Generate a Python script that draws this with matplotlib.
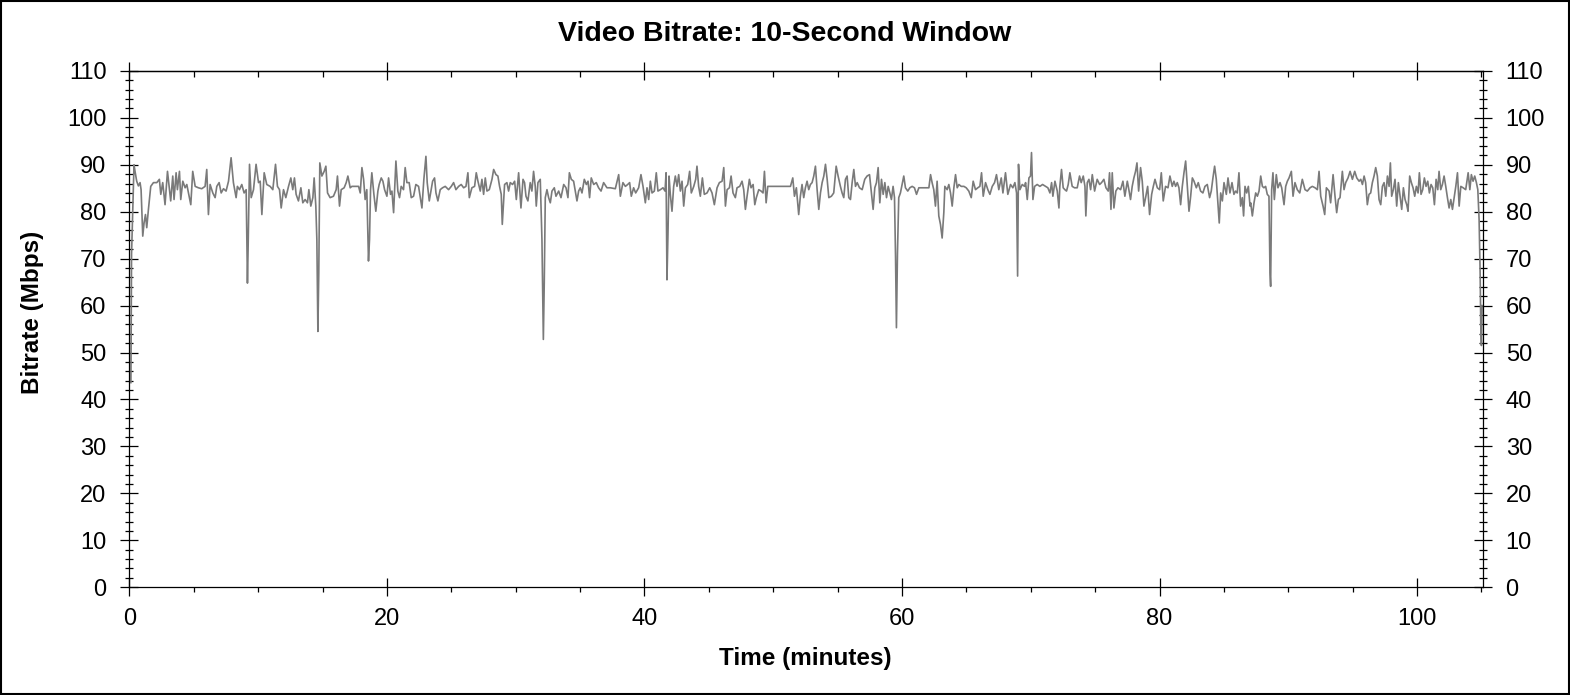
import matplotlib
matplotlib.use("Agg")
import matplotlib.pyplot as plt
from matplotlib.patches import Rectangle
from matplotlib.ticker import MultipleLocator

plt.rcParams['font.family'] = ['Liberation Sans', 'DejaVu Sans']

# bitrate trace, split in six stretches (minutes, Mbps)
t1 = [0.12, 0.17, 0.36, 0.44, 0.57, 0.70, 0.83, 0.91, 1.04, 1.14, 1.25, 1.35, 1.48, 1.66, 1.87,
      2.13, 2.33, 2.44, 2.59, 2.77, 2.96, 3.11, 3.21, 3.37, 3.47, 3.63, 3.73, 3.89, 3.99, 4.15,
      4.33, 4.46, 4.59, 4.77, 4.92, 5.11, 5.36, 5.62, 5.88, 6.01, 6.14, 6.27, 6.48, 6.66, 6.79,
      6.97, 7.13, 7.31, 7.51, 7.70, 7.90, 8.08, 8.29, 8.39, 8.55, 8.73, 8.91, 9.07, 9.15, 9.17,
      9.22, 9.33, 9.46, 9.64, 9.84, 10.03, 10.16, 10.29, 10.47, 10.67, 10.93, 11.14, 11.35,
      11.50, 11.66, 11.79, 11.97, 12.15, 12.36, 12.54, 12.69, 12.82, 12.95, 13.13, 13.32, 13.47,
      13.65, 13.83, 13.94, 14.09, 14.25, 14.35, 14.48, 14.56, 14.64, 14.71, 14.79, 14.95, 15.13,
      15.26, 15.39, 15.59, 15.85, 16.06, 16.16, 16.32, 16.45, 16.68, 16.84, 16.97, 17.15]
v1 = [43.6, 71.0, 90.0, 88.6, 86.5, 85.5, 86.2, 84.7, 74.8, 77.6, 79.4, 76.6, 80.5, 85.4, 86.2,
      86.2, 86.9, 83.7, 86.2, 81.5, 88.6, 84.7, 82.3, 87.6, 82.6, 88.3, 84.7, 88.6, 82.6, 86.5,
      85.1, 85.8, 84.0, 81.5, 88.6, 85.4, 85.1, 84.9, 85.4, 89.0, 79.4, 85.8, 84.0, 83.0, 85.4,
      86.2, 84.0, 84.9, 84.4, 86.5, 91.5, 86.2, 83.0, 85.4, 84.7, 85.8, 84.0, 84.7, 70.0, 64.8,
      72.0, 90.1, 83.0, 84.7, 90.1, 86.2, 86.5, 79.4, 88.3, 85.8, 85.4, 84.7, 90.1,
      85.4, 84.7, 80.8, 84.7, 83.0, 85.4, 87.2, 84.7, 87.2, 83.7, 82.3, 85.1, 81.9,
      82.6, 81.9, 84.7, 81.2, 83.0, 87.2, 81.2, 74.1, 54.5, 67.0, 90.4, 87.6, 88.6,
      89.7, 84.0, 83.0, 83.3, 84.7, 87.6, 81.2, 84.7, 85.1, 86.2, 87.6, 85.1]

t2 = [17.28, 17.54, 17.80, 17.93, 18.06, 18.19, 18.31, 18.44, 18.57, 18.65, 18.73, 18.83, 18.99,
      19.14, 19.30, 19.40, 19.56, 19.69, 19.82, 20.00, 20.13, 20.28, 20.39, 20.52, 20.70, 20.85,
      20.98, 21.11, 21.29, 21.42, 21.55, 21.73, 21.89, 22.07, 22.25, 22.46, 22.72, 22.87, 23.03,
      23.13, 23.29, 23.44, 23.55, 23.70, 23.81, 23.96, 24.14, 24.32, 24.53, 24.79, 25.00, 25.18,
      25.36, 25.57, 25.77, 25.96, 26.14, 26.29, 26.40, 26.60, 26.81, 26.94, 27.07, 27.25, 27.38,
      27.51, 27.64, 27.77, 27.95, 28.16, 28.29, 28.47, 28.62, 28.75, 28.88, 28.96, 29.04, 29.14,
      29.32, 29.45, 29.58, 29.76, 29.92, 30.05, 30.23, 30.41, 30.57, 30.69, 30.80, 30.95, 31.13,
      31.26, 31.39, 31.52, 31.60, 31.73, 31.91, 32.04, 32.15, 32.22, 32.30, 32.43, 32.56, 32.69,
      32.82, 33.00, 33.13, 33.34, 33.52, 33.73, 33.91, 34.06, 34.17, 34.32, 34.50]
v2 = [85.4, 85.4, 85.4, 84.0, 89.4, 86.9, 82.6, 84.7, 69.5, 74.1, 84.7, 88.3, 83.7,
      80.1, 84.4, 85.8, 87.2, 86.5, 84.7, 83.3, 87.2, 83.7, 84.4, 79.8, 90.8, 84.4,
      83.0, 85.4, 84.7, 89.4, 86.2, 86.2, 83.0, 83.3, 85.8, 85.4, 80.8, 86.9, 91.8,
      86.2, 82.3, 84.7, 86.5, 87.2, 84.0, 82.3, 84.7, 85.1, 85.4, 84.7, 85.4, 86.2,
      84.7, 85.4, 85.8, 85.1, 85.4, 88.3, 83.0, 85.1, 85.4, 88.3, 86.5, 84.4, 86.9,
      83.7, 87.2, 84.4, 84.7, 86.9, 89.0, 87.9, 87.6, 85.4, 83.7, 77.3, 81.2, 85.8,
      86.2, 84.4, 86.2, 85.8, 86.5, 82.6, 88.3, 80.8, 86.9, 86.2, 83.3, 82.3, 86.2,
      84.4, 88.6, 85.4, 81.2, 86.2, 86.9, 74.1, 52.8, 64.8, 83.0, 84.7, 83.0, 81.9,
      84.4, 85.1, 83.3, 84.4, 83.0, 85.8, 85.1, 83.0, 88.3, 86.9, 86.5]

t3 = [34.76, 34.89, 35.02, 35.15, 35.33, 35.49, 35.62, 35.74, 35.87, 36.06, 36.26, 36.44, 36.63,
      36.83, 37.09, 37.35, 37.74, 38.00, 38.13, 38.33, 38.52, 38.70, 38.85, 38.98, 39.16, 39.32,
      39.55, 39.73, 39.89, 40.07, 40.20, 40.33, 40.46, 40.59, 40.77, 40.92, 41.05, 41.24, 41.44,
      41.60, 41.68, 41.75, 41.83, 41.91, 42.01, 42.14, 42.27, 42.40, 42.53, 42.66, 42.79, 42.92,
      43.05, 43.18, 43.36, 43.51, 43.64, 43.83, 43.98, 44.08, 44.21, 44.34, 44.50, 44.65, 44.86,
      45.07, 45.25, 45.43, 45.64, 45.82, 46.03, 46.16, 46.29, 46.42, 46.60, 46.73, 46.88, 47.06,
      47.19, 47.40, 47.58, 47.71, 47.84, 47.97, 48.15, 48.28, 48.44, 48.57, 48.69, 48.88, 49.06,
      49.21, 49.32, 49.45, 49.58, 49.78, 50.17, 50.56, 50.95, 51.34, 51.52, 51.65, 51.80, 51.98]
v3 = [82.3, 84.4, 85.1, 84.0, 86.9, 85.8, 86.5, 83.0, 87.2, 85.8, 86.2, 85.1, 84.4,
      86.2, 85.1, 85.1, 84.9, 87.9, 83.3, 86.2, 85.4, 85.8, 86.2, 83.3, 85.1, 84.0,
      85.1, 87.9, 85.4, 81.9, 85.1, 82.6, 86.5, 84.0, 84.4, 88.3, 84.4, 84.7, 85.1,
      84.4, 88.3, 65.5, 75.5, 87.6, 83.7, 80.1, 85.4, 87.6, 85.4, 87.9, 84.4, 86.5,
      81.2, 85.1, 85.8, 88.6, 84.0, 85.4, 86.9, 89.7, 85.4, 83.3, 87.2, 83.7, 84.0,
      85.1, 84.0, 81.5, 85.1, 86.2, 86.5, 89.4, 81.2, 84.7, 85.1, 87.6, 84.0, 83.0,
      85.1, 85.4, 86.5, 84.7, 80.5, 83.3, 86.9, 85.1, 85.8, 81.5, 83.0, 84.7, 84.4,
      84.0, 88.6, 81.9, 85.4, 85.4, 85.4, 85.4, 85.4, 85.4, 87.2, 83.3, 85.1, 79.4]

t4 = [52.11, 52.24, 52.37, 52.50, 52.63, 52.76, 52.89, 53.02, 53.15, 53.28, 53.41, 53.54, 53.67,
      53.80, 53.93, 54.06, 54.19, 54.32, 54.52, 54.70, 54.89, 55.04, 55.22, 55.35, 55.48, 55.61,
      55.74, 55.87, 56.00, 56.13, 56.26, 56.39, 56.52, 56.70, 56.91, 57.11, 57.29, 57.48, 57.63,
      57.76, 57.89, 58.02, 58.15, 58.28, 58.41, 58.54, 58.67, 58.80, 58.93, 59.06, 59.18, 59.31,
      59.42, 59.50, 59.57, 59.65, 59.75, 59.88, 60.01, 60.14, 60.27, 60.45, 60.61, 60.79, 60.97,
      61.13, 61.31, 61.57, 61.83, 62.09, 62.22, 62.34, 62.47, 62.60, 62.73, 62.86, 62.99, 63.12,
      63.25, 63.33, 63.51, 63.64, 63.77, 63.90, 64.03, 64.16, 64.29, 64.42, 64.60, 64.81, 64.99,
      65.19, 65.38, 65.53, 65.71, 65.89, 66.05, 66.18, 66.31, 66.49, 66.67, 66.83, 67.01, 67.19,
      67.34, 67.52, 67.71, 67.84, 68.04, 68.22, 68.43, 68.61, 68.77, 68.90, 68.98, 69.05, 69.16,
      69.34, 69.52]
v4 = [83.3, 85.8, 83.0, 85.1, 86.5, 84.7, 85.8, 86.2, 87.6, 89.7, 84.7, 80.5, 84.0,
      86.2, 87.6, 90.1, 86.9, 83.0, 83.3, 84.0, 89.7, 87.6, 85.4, 84.0, 83.0, 86.9,
      87.6, 83.0, 82.6, 86.2, 89.0, 85.4, 86.2, 85.1, 84.7, 86.9, 87.6, 87.9, 84.0,
      80.5, 85.1, 86.2, 89.4, 81.9, 86.9, 83.7, 86.2, 83.0, 85.4, 84.0, 82.6, 85.4,
      83.0, 70.5, 55.3, 71.2, 83.0, 84.0, 85.8, 87.6, 85.1, 84.4, 85.1, 85.4, 85.1,
      83.7, 85.1, 85.1, 85.1, 85.1, 87.9, 86.2, 84.7, 81.2, 86.5, 79.1, 77.3, 74.4,
      79.8, 85.4, 84.7, 85.8, 84.0, 81.2, 85.1, 87.9, 85.1, 85.8, 85.4, 85.4, 85.1,
      84.4, 83.0, 86.5, 84.7, 85.1, 85.4, 88.3, 83.3, 86.2, 84.7, 83.7, 85.4, 86.2,
      87.9, 84.7, 87.2, 84.0, 88.3, 83.7, 85.8, 85.1, 86.2, 84.0, 66.3, 90.1, 84.7,
      85.8, 85.4]

t5 = [69.60, 69.73, 69.86, 69.98, 70.06, 70.17, 70.30, 70.50, 70.71, 70.92, 71.15, 71.33, 71.49,
      71.62, 71.72, 71.88, 72.06, 72.19, 72.26, 72.39, 72.52, 72.65, 72.78, 72.91, 73.04, 73.22,
      73.40, 73.61, 73.79, 73.92, 74.08, 74.21, 74.28, 74.39, 74.52, 74.65, 74.78, 74.96, 75.16,
      75.35, 75.50, 75.68, 75.84, 76.02, 76.12, 76.23, 76.33, 76.46, 76.61, 76.77, 76.98, 77.16,
      77.31, 77.50, 77.62, 77.75, 77.88, 78.01, 78.14, 78.25, 78.38, 78.53, 78.66, 78.79, 78.92,
      79.08, 79.23, 79.39, 79.52, 79.65, 79.83, 80.01, 80.14, 80.29, 80.47, 80.66, 80.81, 80.99,
      81.12, 81.25, 81.38, 81.51, 81.64, 81.77, 81.90, 82.03, 82.16, 82.29, 82.42, 82.55, 82.68,
      82.86, 83.01, 83.19, 83.37, 83.53, 83.71, 83.89, 84.02, 84.15, 84.28, 84.41, 84.54, 84.64,
      84.75, 84.88, 85.01, 85.19, 85.32, 85.47, 85.63, 85.78, 85.91, 86.04, 86.17, 86.30, 86.43,
      86.53, 86.64, 86.77, 86.90, 87.03]
v5 = [86.2, 82.6, 87.2, 87.6, 92.6, 82.6, 85.4, 85.8, 85.4, 85.8, 85.4, 85.1, 84.0,
      86.2, 83.3, 86.5, 84.4, 80.8, 85.4, 89.0, 85.1, 84.7, 84.4, 85.8, 88.3, 85.4,
      85.1, 85.1, 87.6, 86.2, 87.6, 85.4, 79.1, 86.2, 86.9, 84.7, 87.9, 84.4, 86.9,
      85.8, 86.2, 86.9, 85.1, 84.4, 88.3, 80.5, 88.3, 80.8, 84.4, 85.1, 84.7, 86.5,
      83.3, 86.5, 84.7, 82.6, 85.4, 87.2, 88.6, 90.4, 84.4, 89.4, 86.5, 81.2, 83.0,
      85.4, 79.4, 83.7, 85.4, 86.9, 85.1, 84.7, 88.3, 82.3, 85.4, 85.1, 87.6, 85.4,
      86.5, 85.4, 86.2, 85.1, 81.5, 85.4, 88.3, 90.8, 85.4, 80.1, 83.3, 87.2, 86.5,
      85.1, 86.2, 84.4, 84.0, 85.4, 85.8, 83.0, 84.4, 87.2, 89.7, 86.9, 81.5, 77.6,
      84.0, 82.3, 86.2, 83.7, 87.2, 84.0, 86.2, 83.7, 84.4, 84.0, 88.3, 81.2, 83.0,
      79.1, 85.4, 84.0, 85.4, 81.2]

t6 = [87.08, 87.21, 87.34, 87.47, 87.60, 87.73, 87.86, 87.99, 88.11, 88.24, 88.37, 88.50, 88.58,
      88.63, 88.71, 88.81, 88.92, 89.07, 89.20, 89.36, 89.49, 89.67, 89.80, 89.93, 90.06, 90.24,
      90.37, 90.52, 90.70, 90.89, 91.09, 91.30, 91.48, 91.69, 91.87, 92.08, 92.26, 92.39, 92.52,
      92.70, 92.83, 92.96, 93.17, 93.29, 93.48, 93.63, 93.76, 93.89, 94.02, 94.20, 94.33, 94.46,
      94.64, 94.80, 94.98, 95.16, 95.32, 95.50, 95.63, 95.76, 95.89, 96.01, 96.14, 96.27, 96.40,
      96.53, 96.66, 96.79, 96.92, 97.05, 97.18, 97.31, 97.44, 97.57, 97.70, 97.83, 97.93, 98.03,
      98.16, 98.29, 98.42, 98.55, 98.68, 98.81, 98.94, 99.07, 99.20, 99.30, 99.43, 99.56, 99.69,
      99.82, 99.95, 100.08, 100.18, 100.31, 100.44, 100.57, 100.70, 100.83, 100.96, 101.09,
      101.22, 101.35, 101.48, 101.61, 101.71, 101.84, 101.97, 102.10, 102.23, 102.36, 102.49,
      102.62, 102.75, 102.88, 103.01, 103.14, 103.27, 103.40, 103.58, 103.78, 103.97, 104.10,
      104.22, 104.35, 104.48, 104.61, 104.72, 104.82, 104.90, 104.95, 105.00, 105.05]
v6 = [81.9, 79.1, 81.9, 84.0, 83.3, 84.4, 87.6, 85.4, 85.1, 85.4, 83.7, 83.3, 67.0,
      64.1, 84.7, 88.3, 82.6, 87.9, 85.1, 86.2, 85.1, 81.5, 85.4, 86.5, 87.2, 88.6,
      83.3, 86.2, 84.7, 84.0, 86.9, 84.7, 84.4, 85.1, 85.4, 85.1, 84.7, 88.6, 83.3,
      81.2, 79.4, 85.1, 84.4, 81.9, 87.9, 83.3, 79.8, 82.6, 83.0, 88.6, 84.7, 86.2,
      87.2, 88.6, 86.9, 88.6, 87.2, 86.5, 86.9, 85.8, 87.6, 86.2, 81.5, 83.7, 84.0,
      86.2, 87.6, 89.4, 87.6, 82.6, 81.5, 85.4, 86.2, 83.3, 87.6, 85.4, 90.4, 83.3,
      84.7, 86.9, 81.2, 86.2, 83.3, 80.5, 85.1, 82.6, 81.5, 80.1, 87.6, 86.2, 85.1,
      83.3, 85.4, 84.0, 88.3, 83.7, 84.7, 87.2, 85.4, 86.5, 84.0, 85.8,
      85.1, 81.5, 86.9, 84.7, 88.6, 84.7, 85.8, 87.6, 85.4, 83.0, 80.8,
      82.6, 80.5, 83.0, 85.4, 88.3, 81.2, 85.4, 85.1, 84.7, 88.3, 84.7,
      87.9, 86.5, 87.6, 86.2, 84.7, 78.3, 67.0, 56.0, 51.5, 60.0]

times = t1 + t2 + t3 + t4 + t5 + t6
bitrate = v1 + v2 + v3 + v4 + v5 + v6

x_max = 105.1
y_max = 110

fig = plt.figure(figsize=(15.7, 6.95), dpi=100)
ax = fig.add_axes([0.0824, 0.155, 0.862, 0.743])

ax.plot(times, bitrate, color='#7a7a7a', lw=1.2)

ax.set_xlim(0, x_max)
ax.set_ylim(0, y_max)
ax.xaxis.set_major_locator(MultipleLocator(20))
ax.xaxis.set_minor_locator(MultipleLocator(5))
ax.yaxis.set_major_locator(MultipleLocator(10))
ax.yaxis.set_minor_locator(MultipleLocator(2))

for s in ax.spines.values():
    s.set_linewidth(0.9)

ax.tick_params(axis='x', which='major', direction='inout', length=13.5, width=0.9,
               labelsize=17, pad=8)
ax.tick_params(axis='x', which='minor', direction='out', length=3.8, width=0.9)
ax.tick_params(axis='y', which='major', direction='inout', length=13, width=0.9,
               left=True, right=True, labelleft=True, labelright=True, labelsize=17, pad=10)
ax.tick_params(axis='y', which='minor', direction='inout', length=6, width=0.9,
               left=True, right=True)

# top axis: ticks pointing into the plot
top = ax.secondary_xaxis('top')
top.xaxis.set_major_locator(MultipleLocator(20))
top.xaxis.set_minor_locator(MultipleLocator(5))
top.tick_params(which='major', direction='inout', length=13.5, width=0.9, labeltop=False)
top.tick_params(which='minor', direction='in', length=4.5, width=0.9)
top.spines['top'].set_linewidth(0.9)

fig.text(0.5, 1 - 34 / 695, 'Video Bitrate: 10-Second Window', ha='center', va='center',
         fontsize=20.5, fontweight='bold')
fig.text(0.513, 1 - 659 / 695, 'Time (minutes)', ha='center', va='center',
         fontsize=17.5, fontweight='bold')
fig.text(33 / 1570, 1 - 312 / 695, 'Bitrate (Mbps)', ha='center', va='center',
         rotation=90, fontsize=17.5, fontweight='bold')

fig.patches.append(Rectangle((0.0005, 0.001), 0.999, 0.998, transform=fig.transFigure,
                             fill=False, lw=1.5, ec='black'))

fig.savefig('out.png', dpi=100)
